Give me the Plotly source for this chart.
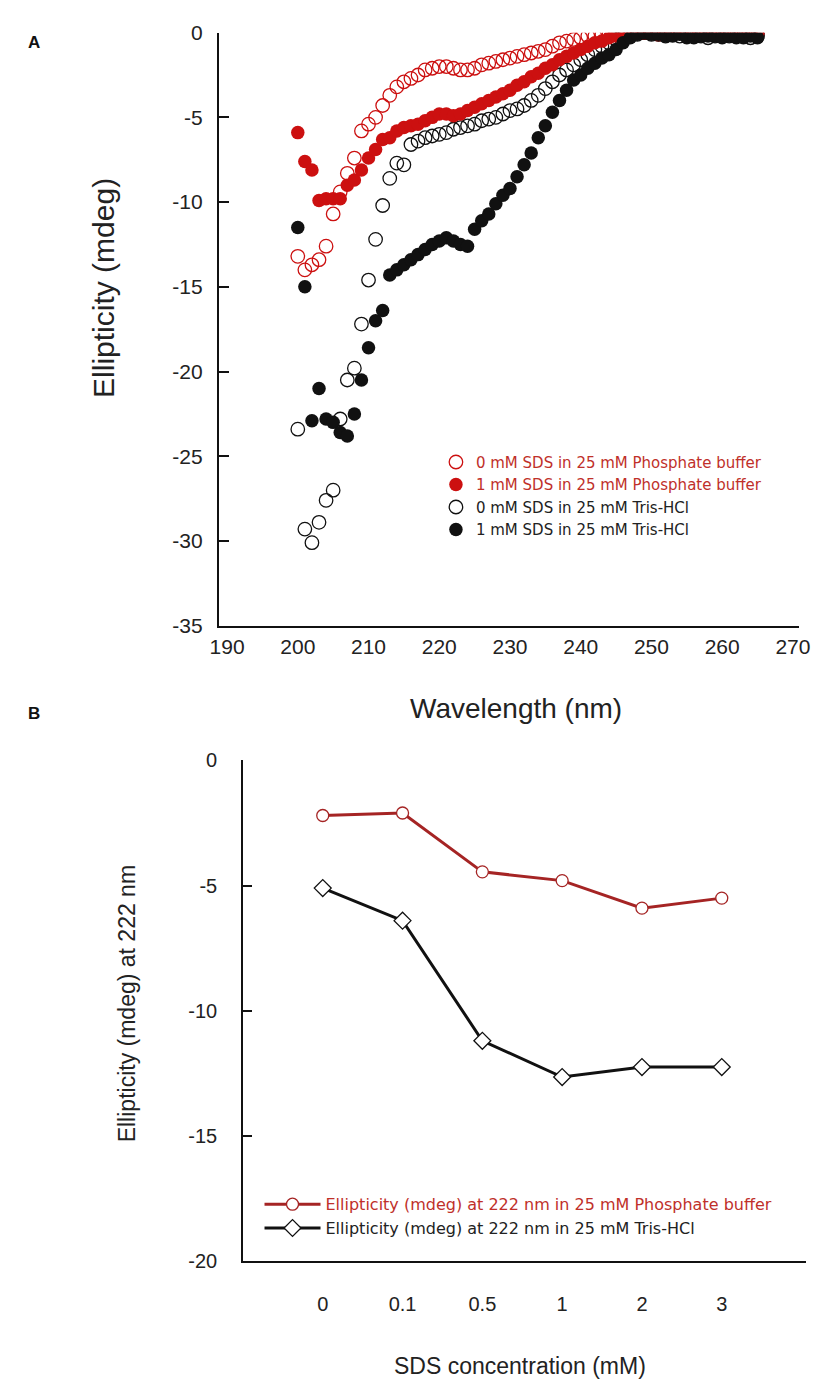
import plotly.graph_objects as go

# ---------------- Panel A data (CD spectra) ----------------
wavelength = list(range(200, 266))

phos_0mM = [
    -13.2, -14.0, -13.7, -13.4, -12.6, -10.7, -9.4, -8.3, -7.4, -5.8,
    -5.4, -5.0, -4.3, -3.7, -3.2, -2.9, -2.7, -2.5, -2.2, -2.1,
    -2.0, -2.0, -2.1, -2.2, -2.2, -2.1, -1.9, -1.8, -1.7, -1.6,
    -1.5, -1.4, -1.3, -1.2, -1.1, -1.0, -0.8, -0.6, -0.5, -0.4,
    -0.3, -0.2, -0.2, -0.1, -0.1, -0.1, 0.0, 0.0, 0.0, 0.0,
    0.0, -0.1, -0.1, 0.0, 0.0, -0.1, -0.1, 0.0, 0.0, -0.1,
    -0.1, -0.1, -0.1, -0.1, 0.0, 0.0,
]
phos_1mM = [
    -5.9, -7.6, -8.1, -9.9, -9.8, -9.8, -9.8, -9.0, -8.7, -8.1,
    -7.4, -6.9, -6.3, -6.2, -5.8, -5.6, -5.5, -5.4, -5.2, -5.0,
    -4.8, -4.8, -4.9, -4.8, -4.6, -4.4, -4.2, -4.0, -3.8, -3.6,
    -3.4, -3.1, -2.9, -2.6, -2.4, -2.1, -1.9, -1.6, -1.4, -1.2,
    -1.0, -0.8, -0.6, -0.5, -0.3, -0.2, -0.1, 0.0, 0.0, 0.0,
    0.0, -0.1, 0.0, -0.1, 0.0, 0.0, -0.1, 0.0, -0.1, -0.1,
    -0.1, -0.1, -0.1, -0.1, -0.1, -0.1,
]
tris_0mM = [
    -23.4, -29.3, -30.1, -28.9, -27.6, -27.0, -22.8, -20.5, -19.8, -17.2,
    -14.6, -12.2, -10.2, -8.6, -7.7, -7.8, -6.6, -6.4, -6.2, -6.1,
    -6.0, -5.9, -5.7, -5.6, -5.5, -5.4, -5.2, -5.1, -5.0, -4.8,
    -4.6, -4.5, -4.3, -4.0, -3.7, -3.3, -2.9, -2.5, -2.2, -1.9,
    -1.6, -1.3, -1.0, -0.8, -0.6, -0.4, -0.3, -0.2, -0.1, 0.0,
    -0.1, -0.1, -0.2, -0.1, -0.2, -0.2, -0.2, -0.2, -0.3, -0.2,
    -0.2, -0.2, -0.2, -0.2, -0.3, -0.2,
]
tris_1mM = [
    -11.5, -15.0, -22.9, -21.0, -22.8, -23.0, -23.6, -23.8, -22.5, -20.5,
    -18.6, -17.0, -16.4, -14.3, -14.0, -13.7, -13.4, -13.1, -12.8, -12.5,
    -12.3, -12.1, -12.3, -12.5, -12.6, -11.6, -11.1, -10.7, -10.1, -9.6,
    -9.2, -8.5, -7.8, -7.1, -6.2, -5.5, -4.7, -4.0, -3.4, -2.8,
    -2.5, -2.1, -1.8, -1.5, -1.3, -1.0, -0.6, -0.3, -0.1, 0.0,
    -0.1, -0.1, -0.2, -0.2, -0.1, -0.3, -0.3, -0.2, -0.2, -0.2,
    -0.3, -0.2, -0.3, -0.3, -0.2, -0.3,
]

# ---------------- Panel B data (222 nm) ----------------
sds_conc = ["0", "0.1", "0.5", "1", "2", "3"]
phos_222 = [-2.2, -2.1, -4.45, -4.8, -5.9, -5.5]
tris_222 = [-5.1, -6.4, -11.2, -12.65, -12.25, -12.25]

xticks_a = [190, 200, 210, 220, 230, 240, 250, 260, 270]
yticks_a = [0, -5, -10, -15, -20, -25, -30, -35]
yticks_b = [0, -5, -10, -15, -20]

RED = "#CC1010"
RED_TXT = "#C0302A"
DRED = "#A52424"
BLK = "#111111"
W, H = 832, 1395


def px(x):
    return x / W


def py(y):
    return 1 - y / H


fig = go.Figure()

# Panel A traces
fig.add_trace(go.Scatter(
    x=wavelength, y=phos_0mM, mode="markers", xaxis="x", yaxis="y", legend="legend",
    name=f"<span style='color:{RED_TXT}'>0 mM SDS in 25 mM Phosphate buffer</span>",
    marker=dict(symbol="circle-open", size=13.5, color=RED, line=dict(width=1.3)),
    legendrank=1))
fig.add_trace(go.Scatter(
    x=wavelength, y=tris_0mM, mode="markers", xaxis="x", yaxis="y", legend="legend",
    name="<span style='color:#222222'>0 mM SDS in 25 mM Tris-HCl</span>",
    marker=dict(symbol="circle-open", size=13.5, color=BLK, line=dict(width=1.3)),
    legendrank=3))
fig.add_trace(go.Scatter(
    x=wavelength, y=phos_1mM, mode="markers", xaxis="x", yaxis="y", legend="legend",
    name=f"<span style='color:{RED_TXT}'>1 mM SDS in 25 mM Phosphate buffer</span>",
    marker=dict(symbol="circle", size=13.5, color=RED, line=dict(width=0)),
    legendrank=2))
fig.add_trace(go.Scatter(
    x=wavelength, y=tris_1mM, mode="markers", xaxis="x", yaxis="y", legend="legend",
    name="<span style='color:#222222'>1 mM SDS in 25 mM Tris-HCl</span>",
    marker=dict(symbol="circle", size=13.5, color=BLK, line=dict(width=0)),
    legendrank=4))

# Panel B traces
fig.add_trace(go.Scatter(
    x=sds_conc, y=phos_222, mode="lines+markers", xaxis="x2", yaxis="y2", legend="legend2",
    name=f"<span style='color:{RED_TXT}'>Ellipticity (mdeg) at 222 nm in 25 mM Phosphate buffer</span>",
    line=dict(color=DRED, width=3),
    marker=dict(symbol="circle", size=12, color="white", line=dict(color=DRED, width=1.3))))
fig.add_trace(go.Scatter(
    x=sds_conc, y=tris_222, mode="lines+markers", xaxis="x2", yaxis="y2", legend="legend2",
    name="<span style='color:#222222'>Ellipticity (mdeg) at 222 nm in 25 mM Tris-HCl</span>",
    line=dict(color=BLK, width=3),
    marker=dict(symbol="diamond", size=13, color="white", line=dict(color=BLK, width=1.3))))

axis_common = dict(showgrid=False, zeroline=False, showline=True, linecolor="#111111",
                   linewidth=1.5, color="#222222")

fig.update_layout(
    width=W, height=H,
    margin=dict(l=0, r=0, t=0, b=0),
    paper_bgcolor="white", plot_bgcolor="white",
    font=dict(family="Liberation Sans, Arial, sans-serif", color="#222222"),
    xaxis=dict(domain=[px(215), px(810)], range=[188.8, 270.8], tickvals=xticks_a,
               ticktext=[str(v) for v in xticks_a],
               ticks="", anchor="y", tickfont=dict(size=21), ticklabelstandoff=1,
               **axis_common),
    yaxis=dict(domain=[py(624), py(21)], range=[-35, 0], tickvals=yticks_a,
               ticktext=["0" if v == 0 else "-" + str(abs(v)) for v in yticks_a],
               ticks="inside", ticklen=11, tickwidth=1.5, tickcolor="#111111",
               anchor="x", tickfont=dict(size=21), ticklabelstandoff=10, **axis_common),
    xaxis2=dict(domain=[px(240), px(818)], type="category", range=[-1, 6.06],
                categoryorder="array", categoryarray=sds_conc,
                ticks="", anchor="y2", tickfont=dict(size=20), ticklabelstandoff=24,
                **axis_common),
    yaxis2=dict(domain=[py(1270), py(761)], range=[-20, 0], tickvals=yticks_b,
                ticktext=["0" if v == 0 else "-" + str(abs(v)) for v in yticks_b],
                ticks="inside", ticklen=9, tickwidth=1.5, tickcolor="#111111",
                anchor="x2", tickfont=dict(size=20), ticklabelstandoff=20, **axis_common),
    legend=dict(x=px(438), y=py(441), xanchor="left", yanchor="top",
                bgcolor="rgba(0,0,0,0)", tracegroupgap=0,
                font=dict(family="DejaVu Sans, sans-serif", size=15)),
    legend2=dict(x=px(257), y=py(1195), xanchor="left", yanchor="top",
                 bgcolor="rgba(0,0,0,0)", tracegroupgap=0, itemwidth=56,
                 font=dict(family="DejaVu Sans, sans-serif", size=16)),
    showlegend=True,
)

ann = dict(showarrow=False, xref="paper", yref="paper", xanchor="center", yanchor="middle")
annotations = [
    dict(text="<b>A</b>", x=px(26), y=py(31), font=dict(size=17, color="#111111"), **ann),
    dict(text="<b>B</b>", x=px(26), y=py(713), font=dict(size=17, color="#111111"), **ann),
    dict(text="Wavelength (nm)", x=px(520), y=py(708), font=dict(size=28), **ann),
    dict(text="Ellipticity (mdeg)", x=px(97), y=py(281), textangle=-90,
         font=dict(size=30), **ann),
    dict(text="Ellipticity (mdeg) at 222 nm", x=px(121), y=py(1008), textangle=-90,
         font=dict(size=23), **ann),
    dict(text="SDS concentration (mM)", x=px(524), y=py(1377), font=dict(size=23), **ann),
]
fig.update_layout(annotations=annotations)

fig.write_html("out.html", config={"displayModeBar": False},
               post_script="document.body.style.margin='0px';document.body.style.padding='0px';")
